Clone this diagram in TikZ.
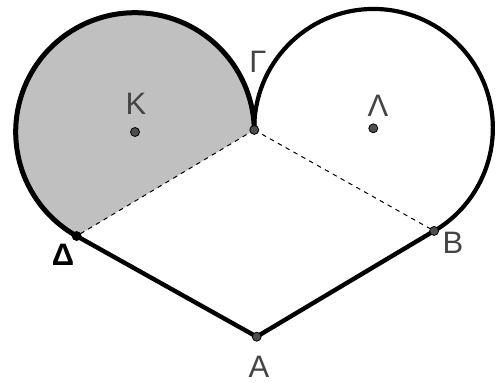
\documentclass[tikz,border=0pt]{standalone}
\usepackage{fontspec}
\setmainfont{Liberation Sans}
\usetikzlibrary{positioning}

\definecolor{segmentgray}{HTML}{C0C0C0}
\definecolor{labelgray}{HTML}{444444}
\definecolor{dotgray}{HTML}{4D4D4D}

\tikzset{
	thickline/.style={line width=4.4pt},
	chord/.style={line width=1pt, dash pattern=on 4.5pt off 4.5pt},
	pt/.style={circle, fill=dotgray, draw=black, line width=0.8pt, inner sep=0pt, minimum size=9pt},
	lbl/.style={text=labelgray, font=\fontsize{31}{33}\selectfont, inner sep=0pt}
}

\begin{document}
\begin{tikzpicture}[x=1pt,y=1pt]
	\useasboundingbox (0,0) rectangle (501,383);
	
	% 两个圆心
	\coordinate (K) at (135,251);
	\coordinate (L) at (373.3,254.7);
	% 四个顶点
	\coordinate (G) at ([shift={(1:119.3)}]K);
	\coordinate (D) at ([shift={(240.7:119.3)}]K);
	\coordinate (B) at ([shift={(-59.35:119.3)}]L);
	\coordinate (A) at (256.7,46.3);
	
	% 灰色弓形
	\fill[segmentgray] (G) arc[start angle=1, end angle=240.7, radius=119.3] -- cycle;
	
	% 虚线弦
	\draw[chord] (G) -- (D);
	\draw[chord] (G) -- (B);
	
	% 两段圆弧
	\draw[line width=5pt] (G) arc[start angle=1, end angle=240.7, radius=119.3];
	\draw[line width=4.2pt] (G) arc[start angle=180.8, end angle=-59.35, radius=119.3];
	
	% 两条边
	\draw[thickline, line join=round] (D) -- (A) -- (B);
	
	% 点
	\foreach \p in {K,L,G,B,A} \node[pt] (dot\p) at (\p) {};
	\node[pt, fill=black] (dotD) at (D) {};
	
	% 字母
	\node[lbl] (lblG) at (258,321) {Γ};
	\node[lbl] (lblK) at (136,279) {K};
	\node[lbl] (lblL) at (378,277) {Λ};
	\node[lbl, text=black, font=\fontsize{31}{33}\selectfont\bfseries] (lblD) at (63,128) {Δ};
	\node[lbl] (lblB) at (453,140) {B};
	\node[lbl] (lblA) at (259,16) {A};
\end{tikzpicture}
\end{document}
